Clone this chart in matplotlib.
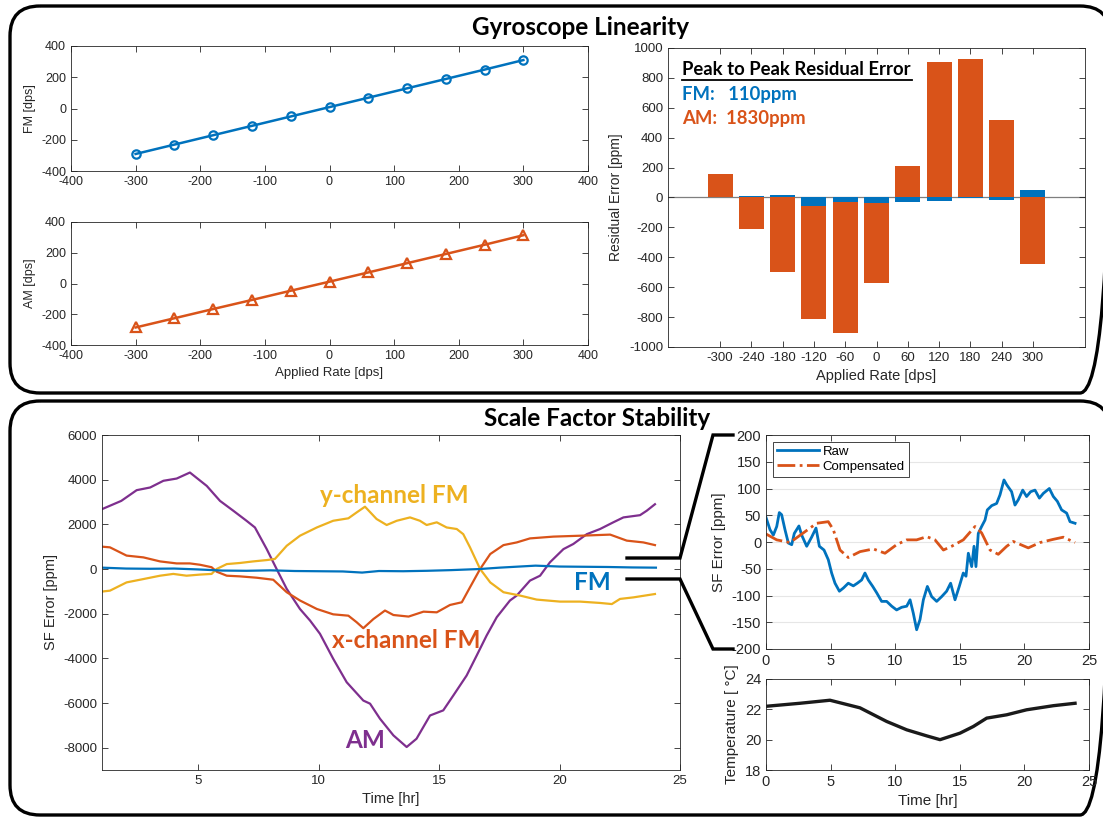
import matplotlib
matplotlib.use('Agg')
import matplotlib.pyplot as plt
from matplotlib.patches import FancyBboxPatch
from matplotlib.lines import Line2D

# MATLAB default colours
BLUE = '#0072BD'
ORANGE = '#D95319'
YELLOW = '#EDB120'
PURPLE = '#7E2F8E'
GRAY = '#262626'

# ---------------- data ----------------
# Gyroscope linearity
rates = [-300, -240, -180, -120, -60, 0, 60, 120, 180, 240, 300]
fm_out = [-291, -231, -171, -111, -51, 9, 69, 129, 189, 249, 310]
am_out = [-286, -226, -166, -107, -47, 12, 72, 132, 192, 252, 314]
fm_resid = [0, 11, 20, -60, -29, -38, -29, -22, -3, -18, 52]
am_resid = [155, -210, -495, -811, -909, -573, 208, 909, 927, 517, -446]

# Scale factor stability (bottom left)
am_t = [1.0, 1.8, 2.44, 3.0, 3.55, 4.1, 4.65, 5.35, 5.9, 6.45, 7.0, 7.35, 7.84, 8.25,
        8.67, 9.22, 9.64, 10.05, 10.6, 11.16, 11.85, 12.13, 12.54, 13.1, 13.65, 14.06,
        14.62, 15.17, 15.59, 16.14, 16.56, 16.97, 17.39, 17.94, 18.22, 18.77, 19.19,
        19.6, 20.16, 20.57, 21.13, 21.68, 22.23, 22.65, 23.34, 23.62, 23.96]
am_sf = [2680, 3050, 3530, 3650, 3950, 4050, 4320, 3720, 3050, 2610, 2160, 1860, 890, 0,
         -890, -1790, -2310, -2900, -4020, -5070, -5890, -6030, -6700, -7450, -7970, -7600,
         -6560, -6330, -5660, -4770, -3870, -2980, -2160, -1410, -1190, -520, -300,
         300, 890, 1120, 1560, 1790, 2090, 2310, 2410, 2610, 2900]

ych_t = [1.0, 1.33, 2.02, 2.72, 3.41, 3.96, 4.51, 5.07, 5.55, 5.76, 6.18, 6.73, 7.28, 7.84,
         8.18, 8.67, 9.22, 9.92, 10.6, 11.23, 11.57, 11.92, 12.4, 12.82, 13.24, 13.79,
         14.2, 14.48, 14.9, 15.31, 15.73, 16.0, 16.28, 16.7, 17.12, 17.67, 18.36, 19.05,
         20.02, 20.85, 21.68, 22.17, 22.51, 23.07, 23.96]
ych_sf = [-1010, -970, -600, -450, -300, -220, -300, -250, -220, 0, 220, 270, 340, 400,
          450, 1040, 1490, 1860, 2160, 2270, 2530, 2790, 2240, 1970, 2160, 2310,
          2160, 1970, 2090, 1860, 1790, 1560, 970, 0, -600, -1040, -1190, -1370,
          -1460, -1460, -1520, -1570, -1340, -1270, -1120]

xch_t = [1.0, 1.33, 2.02, 2.72, 3.41, 4.1, 4.65, 5.07, 5.55, 5.76, 6.18, 6.73, 7.42, 8.11,
         8.67, 9.22, 9.92, 10.6, 11.23, 11.57, 11.85, 12.27, 12.75, 13.1, 13.73, 14.35,
         14.9, 15.45, 15.94, 16.28, 16.7, 17.12, 17.67, 18.22, 18.77, 19.74, 20.85,
         22.1, 22.79, 23.48, 23.96]
xch_sf = [1000, 970, 600, 520, 340, 250, 250, 190, 80, -120, -300, -330, -390, -480,
          -1040, -1410, -1790, -2030, -2090, -2380, -2650, -2240, -1860, -2060, -2130, -1910,
          -1940, -1610, -1490, -820, 0, 670, 1070, 1190, 1370, 1450, 1490,
          1540, 1270, 1190, 1070]

fm_t = [1, 2, 3, 4, 5, 6, 7, 8, 9, 10, 11, 11.8, 12.5, 13.5, 14.5, 15.5, 16.7, 17.5,
        18.5, 19, 20, 21, 22, 23, 24]
fm_sf = [60, 20, 10, 20, -20, -70, -80, -60, -90, -100, -110, -160, -90, -100, -80, -50, 0, 60,
         120, 150, 110, 100, 90, 70, 60]

# Raw vs compensated FM scale factor error
raw_t = [0, 0.31, 0.57, 0.83, 1.03, 1.21, 1.47, 1.73, 1.99, 2.19, 2.55, 2.76, 3.15, 3.53,
         3.87, 4.13, 4.49, 4.82, 5.08, 5.34, 5.68, 5.99, 6.37, 6.76, 7.07, 7.4, 7.66, 7.92,
         8.26, 8.57, 8.95, 9.34, 9.73, 10.11, 10.5, 10.89, 11.15, 11.4, 11.66, 11.92, 12.18,
         12.49, 12.82, 13.21, 13.6, 13.98, 14.29, 14.63, 14.96, 15.27, 15.48, 15.66, 15.92,
         16.1, 16.25, 16.43, 16.69, 16.95, 17.13, 17.47, 17.85, 18.11, 18.42, 18.63, 19.01,
         19.27, 19.53, 19.87, 20.17, 20.48, 20.82, 21.16, 21.47, 21.93, 22.24, 22.55, 22.88,
         23.27, 23.53, 23.92]
raw_sf = [46, 23, 13, 29, 55, 51, 23, -2, -5, 16, 30, 13, -8, 9,
          26, -8, -15, -33, -58, -77, -92, -86, -77, -82, -77, -71, -58, -71,
          -83, -95, -111, -111, -120, -127, -122, -120, -108, -133, -164, -145, -108,
          -83, -102, -111, -102, -92, -77, -108, -83, -58, -64, -21, -46,
          -8, -46, 16, 29, 41, 60, 68, 72, 88, 116, 107, 94,
          69, 79, 97, 85, 94, 97, 82, 91, 100, 85, 76, 60,
          54, 38, 35]

comp_t = [0, 0.83, 1.86, 2.89, 3.92, 4.82, 5.21, 5.73, 6.37, 7.28, 8.31, 9.21, 10.11,
          10.89, 11.66, 12.44, 13.08, 13.73, 14.37, 15.27, 16.18, 16.69, 17.34, 17.98,
          18.63, 19.14, 20.3, 21.21, 22.24, 23.01, 23.92]
comp_sf = [15, 4, -1, 17, 35, 38, 23, -15, -29, -18, -13, -21, -5,
           4, 4, 10, 4, -15, -8, 4, 29, 17, -15, -23,
           -8, 1, -11, -1, 5, 9, -1]

temp_t = [0, 2.63, 4.95, 7.27, 9.34, 10.89, 12.44, 13.47, 15.02, 16.05, 17.08, 18.63,
          20.17, 22.24, 23.92]
temp_c = [22.2, 22.4, 22.6, 22.1, 21.2, 20.65, 20.25, 20.0, 20.43, 20.87, 21.42, 21.64,
          21.97, 22.24, 22.4]

W, H = 1103, 817
plt.rcParams['font.family'] = ['Liberation Sans', 'DejaVu Sans']
plt.rcParams['axes.unicode_minus'] = False
fig = plt.figure(figsize=(W / 100, H / 100), dpi=100)


# axes placed by pixel corners (x0, y0 top-left; x1, y1 bottom-right)
def px_axes(x0, y0, x1, y1, **kw):
    return fig.add_axes([x0 / W, 1 - y1 / H, (x1 - x0) / W, (y1 - y0) / H], **kw)


def matlab_style(ax, fs=9):
    for s in ax.spines.values():
        s.set_color(GRAY)
        s.set_linewidth(0.6)
    ax.tick_params(direction='in', top=True, right=True, length=4, width=0.6,
                   colors=GRAY, labelsize=fs, labelcolor=GRAY)


# overlay for rounded boxes, connectors and free text
ov = px_axes(0, 0, W, H)
ov.set_xlim(0, W)
ov.set_ylim(H, 0)
ov.axis('off')
ov.patch.set_visible(False)
for (bx, by, bw, bh) in [(10, 6, 1100, 387), (10, 401, 1100, 414)]:
    ov.add_patch(FancyBboxPatch((bx, by), bw, bh, boxstyle='round,pad=0,rounding_size=30',
                                fill=False, ec='black', lw=2.4, clip_on=False))

title_font = dict(family=['Lato', 'DejaVu Sans'], fontweight='bold', ha='center', va='center')
fig.text(580, 27, 'Gyroscope Linearity', transform=ov.transData, fontsize=17.5, **title_font)
fig.text(597, 418, 'Scale Factor Stability', transform=ov.transData, fontsize=17.5, **title_font)

# ---- top left: FM / AM vs applied rate
ax1 = px_axes(71, 46, 588, 171)
ax1.plot(rates, fm_out, '-o', color=BLUE, lw=1.8, ms=6, mfc='none', mew=1.6)
ax1.set_xlim(-400, 400)
ax1.set_ylim(-400, 400)
ax1.set_xticks(range(-400, 401, 100))
ax1.set_yticks(range(-400, 401, 200))
ax1.set_ylabel('FM [dps]', fontsize=9, color=GRAY)
matlab_style(ax1)

ax2 = px_axes(71, 222, 588, 345)
ax2.plot(rates, am_out, '-^', color=ORANGE, lw=1.8, ms=7, mfc='none', mew=1.6)
ax2.set_xlim(-400, 400)
ax2.set_ylim(-400, 400)
ax2.set_xticks(range(-400, 401, 100))
ax2.set_yticks(range(-400, 401, 200))
ax2.set_ylabel('AM [dps]', fontsize=9, color=GRAY)
ax2.set_xlabel('Applied Rate [dps]', fontsize=9.5, color=GRAY)
matlab_style(ax2)

# ---- top right: residual error bars
ax3 = px_axes(668, 48, 1085, 347)
ax3.axhline(0, color='#7f7f7f', lw=0.9, zorder=0.5)
ax3.bar(rates, am_resid, width=48, color=ORANGE, zorder=2)
ax3.bar(rates, fm_resid, width=48, color=BLUE, zorder=3)
ax3.set_xlim(-400, 400)
ax3.set_ylim(-1000, 1000)
ax3.set_xticks(rates)
ax3.set_yticks(range(-1000, 1001, 200))
ax3.set_ylabel('Residual Error [ppm]', fontsize=10, color=GRAY)
ax3.set_xlabel('Applied Rate [dps]', fontsize=10.5, color=GRAY)
matlab_style(ax3, fs=9.5)

ann_font = dict(family=['Lato', 'DejaVu Sans'], fontweight='bold', va='center', ha='left')
fig.text(682, 69, 'Peak to Peak Residual Error', transform=ov.transData, fontsize=13.3,
         color='black', **ann_font)
fig.add_artist(Line2D([682, 912], [80, 80], transform=ov.transData, color='black', lw=1.3))
fig.text(682, 94, 'FM:   110ppm', transform=ov.transData, fontsize=13.3, color=BLUE, **ann_font)
fig.text(682, 118, 'AM:  1830ppm', transform=ov.transData, fontsize=13.3, color=ORANGE, **ann_font)

# ---- bottom left: SF error of all channels
ax4 = px_axes(102, 435, 680, 770)
ax4.plot(am_t, am_sf, color=PURPLE, lw=1.6)
ax4.plot(xch_t, xch_sf, color=ORANGE, lw=1.6)
ax4.plot(ych_t, ych_sf, color=YELLOW, lw=1.6)
ax4.plot(fm_t, fm_sf, color=BLUE, lw=1.6)
ax4.set_xlim(1, 25)
ax4.set_ylim(-9000, 6000)
ax4.set_xticks([5, 10, 15, 20, 25])
ax4.set_yticks(range(-8000, 6001, 2000))
ax4.set_ylabel('SF Error [ppm]', fontsize=10.5, color=GRAY)
ax4.set_xlabel('Time [hr]', fontsize=10.5, color=GRAY)
matlab_style(ax4, fs=9.5)

lab_font = dict(family=['Lato', 'DejaVu Sans'], fontweight='bold', ha='center', va='center',
                fontsize=17.5)
fig.text(394, 495, 'y-channel FM', transform=ov.transData, color=YELLOW, **lab_font)
fig.text(406, 640, 'x-channel FM', transform=ov.transData, color=ORANGE, **lab_font)
fig.text(365, 740, 'AM', transform=ov.transData, color=PURPLE, **lab_font)
fig.text(592, 583, 'FM', transform=ov.transData, color=BLUE, **lab_font)

# zoom connector brackets
for pts in [([627, 680, 713, 733], [558, 558, 435, 435]),
            ([627, 680, 713, 733], [579, 579, 649, 649])]:
    fig.add_artist(Line2D(pts[0], pts[1], transform=ov.transData, color='black', lw=2.4,
                          solid_joinstyle='miter', zorder=5))

# ---- bottom right: raw vs compensated
ax5 = px_axes(766, 435, 1089, 649)
ax5.plot(raw_t, raw_sf, color=BLUE, lw=2, label='Raw')
ax5.plot(comp_t, comp_sf, '-.', color=ORANGE, lw=2, label='Compensated')
ax5.set_xlim(0, 25)
ax5.set_ylim(-200, 200)
ax5.set_xticks(range(0, 26, 5))
ax5.set_yticks(range(-200, 201, 50))
ax5.yaxis.grid(True, color='#e6e6e6', lw=0.8)
ax5.set_axisbelow(True)
ax5.set_ylabel('SF Error [ppm]', fontsize=11, color=GRAY)
matlab_style(ax5, fs=10.5)
leg = ax5.legend(loc='upper left', fontsize=9.5, fancybox=False, framealpha=1,
                 edgecolor=GRAY, borderaxespad=0.5, handlelength=3.2, borderpad=0.3,
                 labelspacing=0.2, handletextpad=0.3)
leg.get_frame().set_linewidth(0.6)

# ---- bottom right: temperature
ax6 = px_axes(766, 679, 1089, 770)
ax6.plot(temp_t, temp_c, color='#1a1a1a', lw=2.4)
ax6.set_xlim(0, 25)
ax6.set_ylim(18, 24)
ax6.set_xticks(range(0, 26, 5))
ax6.set_yticks([18, 20, 22, 24])
ax6.set_ylabel('Temperature [ °C]', fontsize=11, color=GRAY)
ax6.set_xlabel('Time [hr]', fontsize=11, color=GRAY)
matlab_style(ax6, fs=10.5)

fig.savefig('out.png', dpi=100)
